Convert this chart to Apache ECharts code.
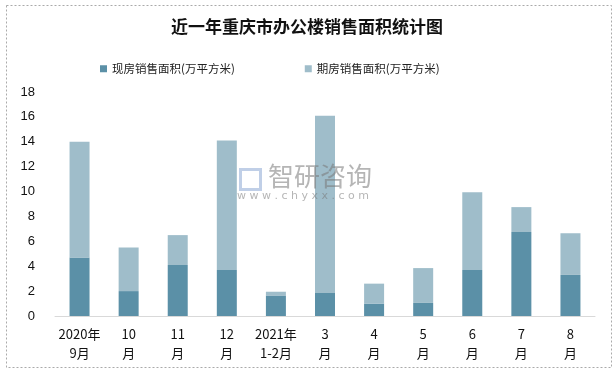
<!DOCTYPE html>
<html><head><meta charset="utf-8">
<script src="https://cdn.jsdelivr.net/npm/echarts@6/dist/echarts.min.js"></script>
<style>html,body{margin:0;padding:0;background:#fff}#c{width:614px;height:369px}</style>
</head><body><div id="c"></div>
<script>
var categories = ['2020年\n9月','10\n月','11\n月','12\n月','2021年\n1-2月','3\n月','4\n月','5\n月','6\n月','7\n月','8\n月'];
var xianfang = [4.7, 2.0, 4.1, 3.7, 1.65, 1.85, 1.0, 1.05, 3.7, 6.75, 3.3];
var qifang = [9.3, 3.5, 2.4, 10.4, 0.3, 14.25, 1.6, 2.8, 6.25, 2.0, 3.35];
var yTicks = [0, 2, 4, 6, 8, 10, 12, 14, 16, 18];
var seriesNames = ['现房销售面积(万平方米)', '期房销售面积(万平方米)'];

var chart = echarts.init(document.getElementById('c'));
chart.setOption({
  animation: false,
  backgroundColor: '#fff',
  title: {
    text: '近一年重庆市办公楼销售面积统计图',
    left: 'center', top: 13,
    textStyle: {fontFamily: 'Noto Sans CJK SC', fontWeight: 'bold', fontSize: 17, color: '#111'}
  },
  legend: {
    top: 58, left: 95, itemGap: 70, itemWidth: 7, itemHeight: 7, icon: 'rect',
    textStyle: {fontFamily: 'Noto Sans CJK SC', fontSize: 11.5, color: '#222'},
    data: seriesNames
  },
  grid: {left: 55, right: 19, top: 92, bottom: 53},
  xAxis: {
    type: 'category', data: categories,
    axisLine: {lineStyle: {color: '#d9d9d9'}},
    axisTick: {show: false},
    axisLabel: {fontFamily: 'Noto Sans CJK SC', fontSize: 13, color: '#111', lineHeight: 19, margin: 9, interval: 0}
  },
  yAxis: {
    type: 'value', min: 0, max: 18, interval: 2,
    axisLine: {show: false}, axisTick: {show: false}, splitLine: {show: false},
    axisLabel: {fontFamily: 'Liberation Sans', fontSize: 13, color: '#111', margin: 20,
      formatter: function (v) { return yTicks.indexOf(v) >= 0 ? String(v) : ''; }}
  },
  series: [
    {name: seriesNames[0], type: 'bar', stack: 's', data: xianfang, barWidth: 20,
     itemStyle: {color: '#5b90a7'}},
    {name: seriesNames[1], type: 'bar', stack: 's', data: qifang, barWidth: 20,
     itemStyle: {color: '#9fbdca'}}
  ],
  graphic: [
    {type: 'rect', left: 4, top: 3, shape: {width: 605, height: 362},
     style: {fill: 'none', stroke: '#aaa', lineWidth: 1, lineDash: [2, 2]}, z: -1},
    {type: 'text', left: 268, top: 163, z: 100,
     style: {text: '智研咨询', font: '26px "Noto Sans CJK SC"', fill: 'rgba(120,120,120,0.55)'}},
    {type: 'rect', left: 238, top: 167, z: 100, shape: {width: 20, height: 20},
     style: {fill: 'none', stroke: 'rgba(150,175,215,0.6)', lineWidth: 3}},
    {type: 'text', left: 237, top: 191, z: 100,
     style: {text: 'w w w . c h y x x . c o m', font: '11px "DejaVu Sans"', fill: 'rgba(120,120,120,0.55)'}}
  ]
});
</script></body></html>
